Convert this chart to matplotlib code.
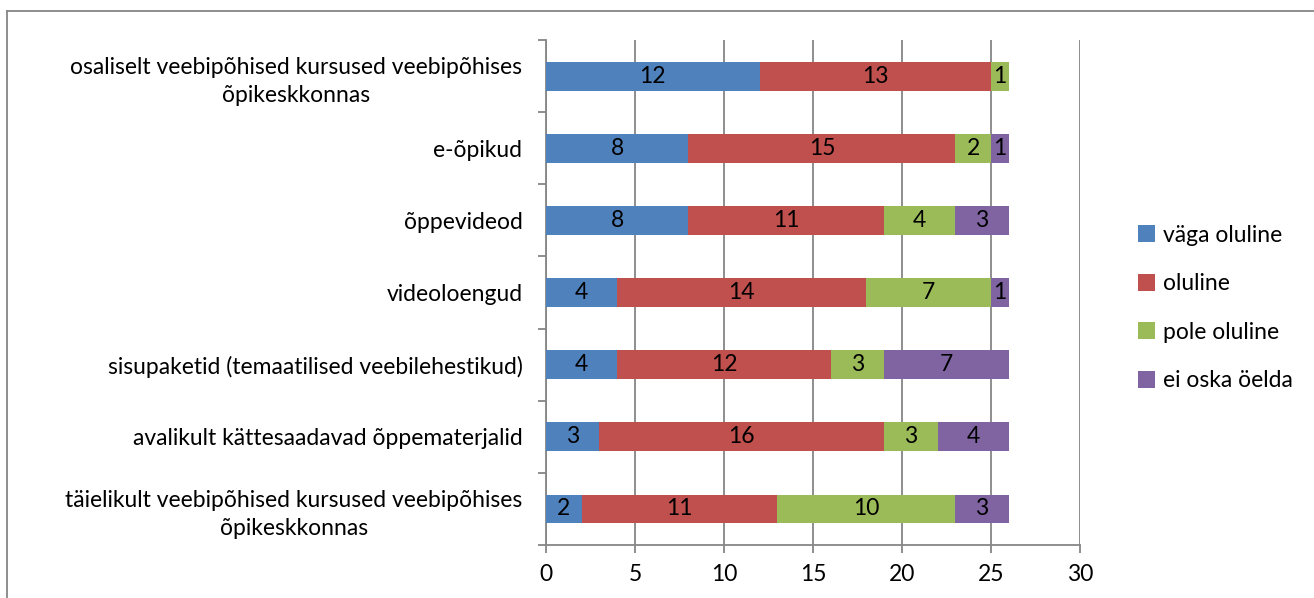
import matplotlib
matplotlib.use("Agg")
import matplotlib.pyplot as plt
from matplotlib.lines import Line2D
from matplotlib.patches import Patch

plt.rcParams["font.family"] = ["Lato", "DejaVu Sans"]

# categories from bottom to top
categories = [
    "täielikult veebipõhised kursused veebipõhises\nõpikeskkonnas",
    "avalikult kättesaadavad õppematerjalid",
    "sisupaketid (temaatilised veebilehestikud)",
    "videoloengud",
    "õppevideod",
    "e-õpikud",
    "osaliselt veebipõhised kursused veebipõhises\nõpikeskkonnas",
]
vaga_oluline = [2, 3, 4, 4, 8, 8, 12]
oluline = [11, 16, 12, 14, 11, 15, 13]
pole_oluline = [10, 3, 3, 7, 4, 2, 1]
ei_oska = [3, 4, 7, 1, 3, 1, 0]
series_names = ["väga oluline", "oluline", "pole oluline", "ei oska öelda"]
colors = ["#4F81BD", "#C0504D", "#9BBB59", "#8064A2"]

FS = 16.5
W, H = 1314, 598
fig = plt.figure(figsize=(W / 100, H / 100), dpi=100)
fig.patch.set_facecolor("white")
ax = fig.add_axes([546 / W, 1 - 545 / H, (1080 - 546) / W, (545 - 40) / H])

# outer chart frame (only left/top edges visible)
gray = "#868686"
fig.add_artist(Line2D([7 / W, 7 / W], [0, 1 - 11 / H], transform=fig.transFigure, color=gray, lw=1.3))
fig.add_artist(Line2D([7 / W, 1], [1 - 11 / H, 1 - 11 / H], transform=fig.transFigure, color=gray, lw=1.3))

ypos = list(range(len(categories)))
left = [0] * len(categories)
for vals, c, name in zip([vaga_oluline, oluline, pole_oluline, ei_oska], colors, series_names):
    bars = ax.barh(ypos, vals, left=left, height=0.4, color=c, label=name, zorder=3)
    for b, v in zip(bars, vals):
        if v > 0:
            ax.text(b.get_x() + b.get_width() / 2, b.get_y() + b.get_height() / 2, str(v),
                    ha="center", va="center", fontsize=FS, color="black", zorder=4)
    left = [l + v for l, v in zip(left, vals)]

ax.set_xlim(0, 30)
ax.set_ylim(-0.5, len(categories) - 0.5)
ax.set_xticks(range(0, 31, 5))
ax.set_yticks(ypos)
ax.set_yticklabels(categories, fontsize=FS, multialignment="center", linespacing=1.4)
ax.set_yticks([i - 0.5 for i in range(len(categories) + 1)], minor=True)
ax.tick_params(axis="y", which="major", length=0, pad=17)
ax.tick_params(axis="y", which="minor", length=6, color=gray, width=1.3)
ax.tick_params(axis="x", length=6, color=gray, width=1.3, labelsize=FS, pad=8)
ax.grid(axis="x", color=gray, lw=1.3, zorder=0)
for s in ["top", "right"]:
    ax.spines[s].set_visible(False)
ax.spines["left"].set_color(gray)
ax.spines["bottom"].set_color(gray)
ax.spines["left"].set_linewidth(1.3)
ax.spines["bottom"].set_linewidth(1.3)

handles = [Patch(facecolor=c, edgecolor="none") for c in colors]
fig.legend(handles, series_names, loc="center left", bbox_to_anchor=(1117 / W, 1 - 308 / H),
           frameon=False, fontsize=FS, handlelength=0.75, handleheight=0.75,
           handletextpad=0.35, labelspacing=1.2)

fig.savefig("out.png", dpi=100)
